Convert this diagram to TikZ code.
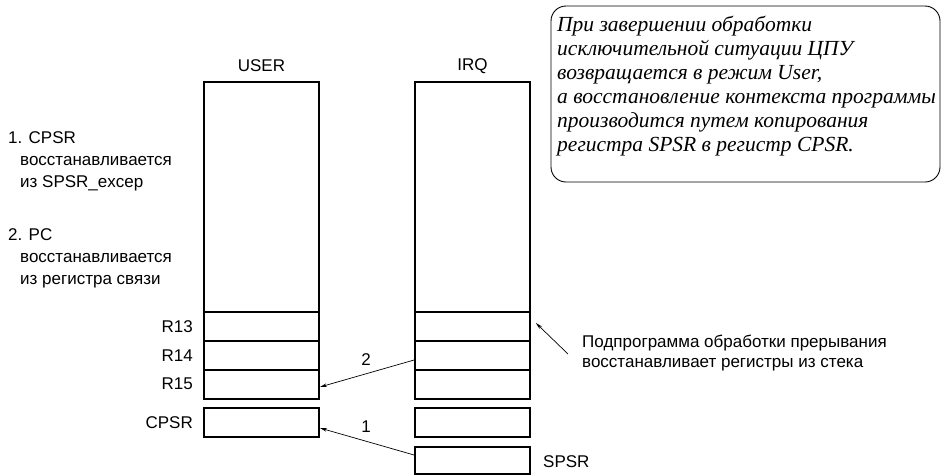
\documentclass[tikz,border=0pt]{standalone}
\usepackage{fontspec}
\setmainfont{Liberation Serif}
\setsansfont{Liberation Sans}
\usetikzlibrary{arrows.meta}
\begin{document}
\begin{tikzpicture}[x=1pt,y=-1pt,
  reg/.style={draw, line width=1.8pt, inner sep=0pt, minimum width=115pt},
  lbl/.style={font=\sffamily\fontsize{17}{22}\selectfont, inner sep=0pt},
  arr/.style={-{Stealth[length=7pt,width=3.5pt]}, line width=0.7pt},
  boxtxt/.style={font=\itshape\fontsize{21.5}{24}\selectfont, inner sep=0pt, align=left, anchor=north west}
]
\useasboundingbox (0,0) rectangle (943,475);
% USER column
\node[reg, minimum height=230pt] (ubig) at (261.5,197) {};
\node[reg, minimum height=29pt] (u13) at (261.5,326.5) {};
\node[reg, minimum height=29pt] (u14) at (261.5,355.5) {};
\node[reg, minimum height=29pt] (u15) at (261.5,384.5) {};
\node[reg, minimum height=29pt] (ucpsr) at (261.5,422.5) {};
% IRQ column
\node[reg, minimum height=230pt] (ibig) at (472.5,197) {};
\node[reg, minimum height=29pt] (i13) at (472.5,326.5) {};
\node[reg, minimum height=29pt] (i14) at (472.5,355.5) {};
\node[reg, minimum height=29pt] (i15) at (472.5,384.5) {};
\node[reg, minimum height=29pt] (icpsr) at (472.5,422.5) {};
\node[reg, minimum height=27pt] (spsr) at (472.5,460.5) {};
% headers
\node[lbl] (huser) at (261.5,66) {USER};
\node[lbl] (hirq) at (472.5,66) {IRQ};
% register labels
\node[lbl, anchor=east] (l13) at (193,327) {R13};
\node[lbl, anchor=east] (l14) at (193,356) {R14};
\node[lbl, anchor=east] (l15) at (193,384) {R15};
\node[lbl, anchor=east] (lcpsr) at (193,423) {CPSR};
\node[lbl, anchor=west] (lspsr) at (543,462) {SPSR};
% left notes
\node[lbl, anchor=north west, align=left] (note1) at (8,131) {1. CPSR\\\hspace*{12pt}восстанавливается\\\hspace*{12pt}из SPSR\_excep};
\node[lbl, anchor=north west, align=left] (note2) at (8,228) {2. PC\\\hspace*{12pt}восстанавливается\\\hspace*{12pt}из регистра связи};
% arrows
\draw[arr] ([yshift=-4.5pt]i14.west) -- ([yshift=-2.5pt]u15.east);
\draw[arr] ([yshift=5.5pt]spsr.west) -- ([yshift=-5.5pt]ucpsr.east);
\node[lbl] (n2) at (366,360) {2};
\node[lbl] (n1) at (366,427) {1};
% right note
\coordinate (tail) at (568,354);
\draw[arr] (tail) -- ([shift={(5pt,3.5pt)}]i13.east);
\node[lbl, anchor=west, align=left, font=\sffamily\fontsize{17}{20.5}\selectfont] (sub) at (582,353) {Подпрограмма обработки прерывания\\восстанавливает регистры из стека};
% rounded box
\node[draw, line width=0.9pt, rounded corners=15pt, minimum width=389pt, minimum height=176pt, inner sep=0pt] (bx) at (745.5,94) {};
\node[boxtxt] (bt) at (557,16) {При завершении обработки\\исключительной ситуации ЦПУ\\возвращается в режим User,\\а восстановление контекста программы\\производится путем копирования\\регистра SPSR в регистр CPSR.};
\end{tikzpicture}
\end{document}
